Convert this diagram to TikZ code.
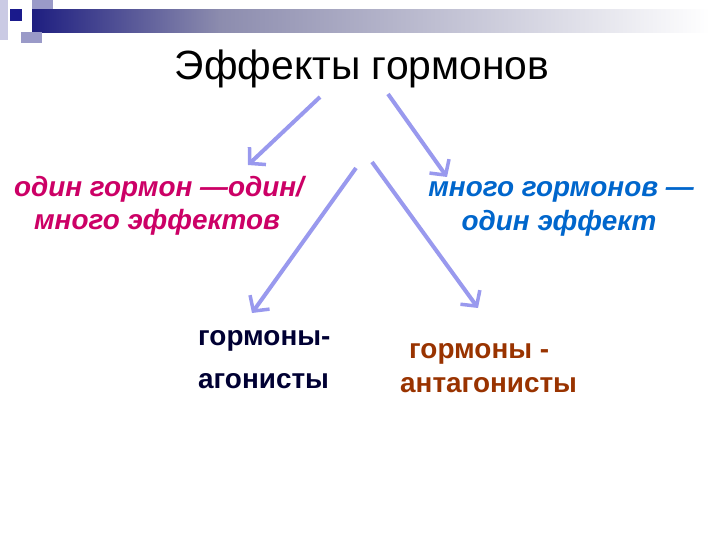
\documentclass[tikz,border=0pt]{standalone}
\usepackage{fontspec}
\setmainfont{Liberation Sans}
\usetikzlibrary{arrows.meta}
\definecolor{arrowc}{HTML}{9999EE}
\definecolor{crim}{HTML}{CC0066}
\definecolor{blu}{HTML}{0066CC}
\definecolor{navy}{HTML}{000033}
\definecolor{brwn}{HTML}{993300}
\definecolor{bardark}{HTML}{1E1E80}
\definecolor{barmid}{HTML}{8C8CAE}
\definecolor{sqdark}{HTML}{1A1A8C}
\definecolor{sqmid}{HTML}{9A9AC8}
\definecolor{sqlight}{HTML}{CACAE4}
\begin{document}
\begin{tikzpicture}[x=1bp,y=-1bp,
  arr/.style={draw=arrowc,line width=4bp,-{Straight Barb[length=11bp,width=24bp,line width=3.5bp]}},
  ttl/.style={font=\fontsize{41}{44}\selectfont,anchor=base,inner sep=0pt},
  itl/.style={font=\fontsize{28}{32}\selectfont\bfseries\itshape,anchor=base,inner sep=0pt},
  bld/.style={font=\fontsize{28}{32}\selectfont\bfseries,anchor=base west,inner sep=0pt}]
\useasboundingbox (0,0) rectangle (720,540);
\fill[white] (0,0) rectangle (720,540);
% header decoration
\fill[sqlight] (0,0) rectangle (8,40);
\fill[sqmid] (32,0) rectangle (53,22);
\shade[left color=bardark,right color=barmid] (32,10) rectangle (220,33);
\shade[left color=barmid,right color=white] (219.5,10) rectangle (710,33);
\fill[sqmid] (21,32) rectangle (42,43);
\fill[sqdark] (10,9) rectangle (22,21);
% texts
\node[ttl] (title) at (362,80) {Эффекты гормонов};
\node[itl,text=crim] (left1) at (159,197) {один гормон —один/};
\node[itl,text=crim] (left2) at (157,230) {много эффектов};
\node[itl,text=blu] (right1) at (561,197) {много гормонов —};
\node[itl,text=blu] (right2) at (559,231) {один эффект};
\node[bld,text=navy] (agon1) at (198,345) {гормоны-};
\node[bld,text=navy] (agon2) at (198,388) {агонисты};
\node[bld,text=brwn] (antag1) at (409,358) {гормоны -};
\node[bld,text=brwn] (antag2) at (400,392) {антагонисты};
% arrows
\coordinate (a1s) at (320,97);  \coordinate (a1e) at (248,165);
\coordinate (a2s) at (388,94);  \coordinate (a2e) at (447,177);
\coordinate (a3s) at (356,168); \coordinate (a3e) at (252,313);
\coordinate (a4s) at (372,162); \coordinate (a4e) at (478,308);
\draw[arr] (a1s) -- (a1e);
\draw[arr] (a2s) -- (a2e);
\draw[arr] (a3s) -- (a3e);
\draw[arr] (a4s) -- (a4e);
\end{tikzpicture}
\end{document}
